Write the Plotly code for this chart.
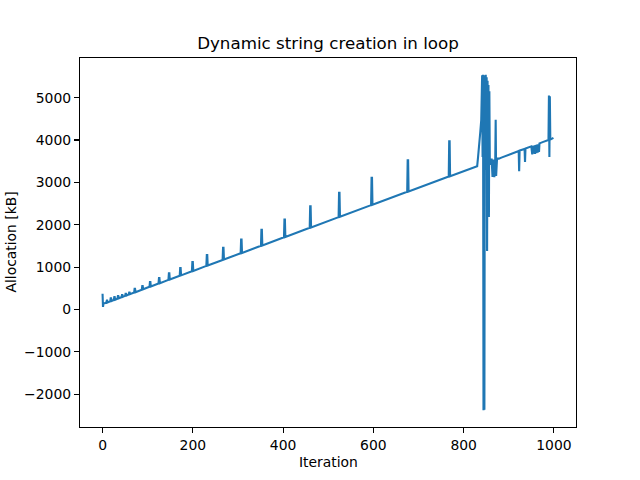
import plotly.graph_objects as go

# ---- data ----
# start of the run
start_iter = [0, 1, 2]
start_kb = [370, 60, 140]

# periodic re-allocation spikes: iteration, baseline before spike, spike top
spike_iter = [9, 18, 26, 34, 43, 51, 59, 71, 88, 105, 125, 147, 172, 199, 231,
              267, 307, 352, 403, 460, 524, 596, 676, 768]
spike_base = [155, 190, 222, 254, 289, 320, 352, 399, 466, 533, 611, 698, 796,
              902, 1028, 1169, 1327, 1503, 1704, 1928, 2179, 2462, 2777, 3138]
spike_top = [230, 260, 290, 315, 340, 370, 400, 488, 550, 644, 738, 850, 974,
             1116, 1281, 1455, 1651, 1880, 2123, 2437, 2752, 3106, 3521, 3969]

# chaotic tail of the run
tail_iter = [830, 832, 834, 837, 839, 840, 841, 842, 843, 844, 845, 846, 847,
             848, 849, 850, 851, 852, 853, 854, 855, 856, 857, 858, 860, 862,
             864, 866, 868, 870, 871, 872, 874, 878, 885, 900, 915, 922, 923,
             924, 935, 936, 937, 950, 952, 953, 955, 956, 958, 959, 961, 962,
             964, 965, 967, 968, 975, 985, 988, 989, 990, 991, 992, 999]
tail_kb = [3382, 3600, 3950, 4200, 4470, 5500, 5530, 3600, 5540, -2380, 5520,
           -2370, 5530, 4200, 5540, 3300, 5480, 1380, 5400, 2200, 5300, 2180,
           5150, 3480, 3420, 3560, 3130, 3540, 3120, 3500, 4480, 3150, 3560,
           3560, 3590, 3650, 3710, 3740, 3260, 3750, 3790, 3480, 3800, 3850,
           3660, 3860, 3680, 3870, 3670, 3880, 3690, 3890, 3700, 3900, 3720,
           3920, 3950, 3990, 4000, 5050, 3600, 5030, 4010, 4050]

x_ticks = [0, 200, 400, 600, 800, 1000]
y_ticks = [-2000, -1000, 0, 1000, 2000, 3000, 4000, 5000]

# ---- assemble the series ----
xs = list(start_iter)
ys = list(start_kb)
for s, b, t in zip(spike_iter, spike_base, spike_top):
    xs += [s - 1, s, s + 1, s + 2]
    ys += [b, t, t, b + 8]
xs += tail_iter
ys += tail_kb

FONT = "DejaVu Sans"
fig = go.Figure(go.Scatter(x=xs, y=ys, mode="lines",
                           line=dict(color="#1f77b4", width=2.1),
                           showlegend=False, hoverinfo="skip"))

ymin, ymax = min(ys), max(ys)
pad = (ymax - ymin) * 0.05
axis_common = dict(showline=True, mirror=True, linecolor="black", linewidth=1.1,
                   ticks="outside", ticklen=5, tickwidth=1.1, tickcolor="black",
                   showgrid=False, zeroline=False,
                   tickfont=dict(family=FONT, size=13.9, color="black"))
fig.update_xaxes(range=[-49.95, 1048.95], tickvals=x_ticks, **axis_common)
fig.update_yaxes(range=[ymin - pad, ymax + pad], tickvals=y_ticks, **axis_common)

W, H = 640, 480
fig.update_layout(
    width=W, height=H,
    margin=dict(l=80, r=64, t=58, b=53),
    plot_bgcolor="white", paper_bgcolor="white",
    title=dict(text="Dynamic string creation in loop", x=0.5, xref="paper",
               y=1 - 43 / H, yref="container", yanchor="middle",
               xanchor="center", font=dict(family=FONT, size=16.7, color="black")),
    annotations=[
        dict(text="Iteration", xref="paper", yref="paper", x=0.5, y=-0.094,
             showarrow=False, xanchor="center", yanchor="middle",
             font=dict(family=FONT, size=13.9, color="black")),
        dict(text="Allocation [kB]", xref="paper", yref="paper", x=-0.141, y=0.5,
             showarrow=False, textangle=-90, xanchor="center", yanchor="middle",
             font=dict(family=FONT, size=13.9, color="black")),
    ],
)

# remove the default page margin so the figure sits at the window's corner
fig.write_html("out.html",
               config={"displayModeBar": False, "staticPlot": True},
               post_script="document.body.style.margin='0';"
                           "document.body.style.overflow='hidden';")
